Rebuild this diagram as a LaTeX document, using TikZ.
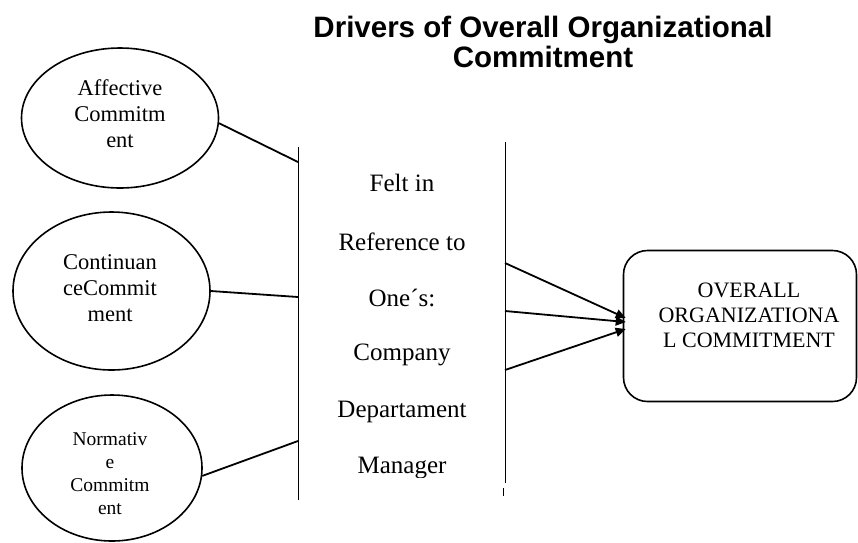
\documentclass[tikz,border=0pt]{standalone}
\usepackage{fontspec}
\setmainfont{Liberation Serif}
\newfontfamily\titlefont{Liberation Sans}
\usetikzlibrary{shapes.geometric,arrows.meta}
\tikzset{
  oval/.style={ellipse,draw,line width=1.6pt,inner sep=0pt},
  ovaltext/.style={inner sep=0pt,align=center,font=\fontsize{22.5}{26}\selectfont},
  midtext/.style={inner sep=0pt,font=\fontsize{25}{28}\selectfont},
  thinline/.style={line width=0.9pt},
  conn/.style={line width=1.8pt},
  arr/.style={line width=1.8pt,-{Triangle[length=10pt,width=9pt]}},
  outbox/.style={draw,line width=1.6pt,rounded corners=24pt,minimum width=233pt,minimum height=151pt,inner sep=0pt}
}
\begin{document}
\begin{tikzpicture}[x=1pt,y=-1pt]
\useasboundingbox (0,0) rectangle (858,542);
% title
\node[font=\titlefont\bfseries\fontsize{29.5}{30}\selectfont,align=center] (title) at (543,42) {Drivers of Overall Organizational\\Commitment};
% ellipses
\node[oval,minimum width=197pt,minimum height=140pt] (aff) at (120,118) {};
\node[ovaltext] (afft) at (120,114) {Affective\\Commitm\\ent};
\node[oval,minimum width=197pt,minimum height=158pt] (cont) at (111.5,291) {};
\node[ovaltext] (contt) at (110,288) {Continuan\\ceCommit\\ment};
\node[oval,minimum width=180pt,minimum height=146pt] (norm) at (112,468) {};
\node[ovaltext,font=\fontsize{19.5}{23}\selectfont] (normt) at (110,474) {Normativ\\e\\Commitm\\ent};
% vertical lines
\coordinate (ltop) at (298,147);
\coordinate (lbot) at (298,500);
\coordinate (rtop) at (505,142);
\coordinate (rbot) at (505,483);
\coordinate (rs1) at (503,488);
\coordinate (rs2) at (503,496);
\draw[thinline] (ltop) -- (lbot);
\draw[thinline] (rtop) -- (rbot);
\draw[thinline] (rs1) -- (rs2);
% middle text
\begin{scope}
\clip (300,140) rectangle (503,477);
\node[midtext] (t1) at (402,183) {Felt in};
\node[midtext] (t2) at (402,242) {Reference to};
\node[midtext] (t3) at (402,298) {One´s:};
\node[midtext] (t4) at (402,355) {Company};
\node[midtext] (t5) at (402,412) {Departament};
\node[midtext] (t6) at (402,468) {Manager};
\end{scope}
% connectors to left line
\coordinate (la) at (298,162);
\coordinate (lb) at (298,297);
\coordinate (lc) at (298,441);
\draw[conn] (aff.-3) -- (la);
\draw[conn] (cont.east) -- (lb);
\draw[conn] (norm.-5) -- (lc);
% output box
\node[outbox] (ovr) at (740,326) {};
\node[ovaltext,font=\fontsize{22}{25}\selectfont] (ovrt) at (749,315) {OVERALL\\ORGANIZATIONA\\L COMMITMENT};
% arrows
\coordinate (ra) at (505,263);
\coordinate (rb) at (505,311);
\coordinate (rc) at (505,370);
\draw[arr] (ra) -- ([xshift=3pt,yshift=8pt]ovr.west);
\draw[arr] (rb) -- ([xshift=3pt,yshift=4pt]ovr.west);
\draw[arr] (rc) -- ([xshift=3pt,yshift=-3pt]ovr.west);
\end{tikzpicture}
\end{document}
